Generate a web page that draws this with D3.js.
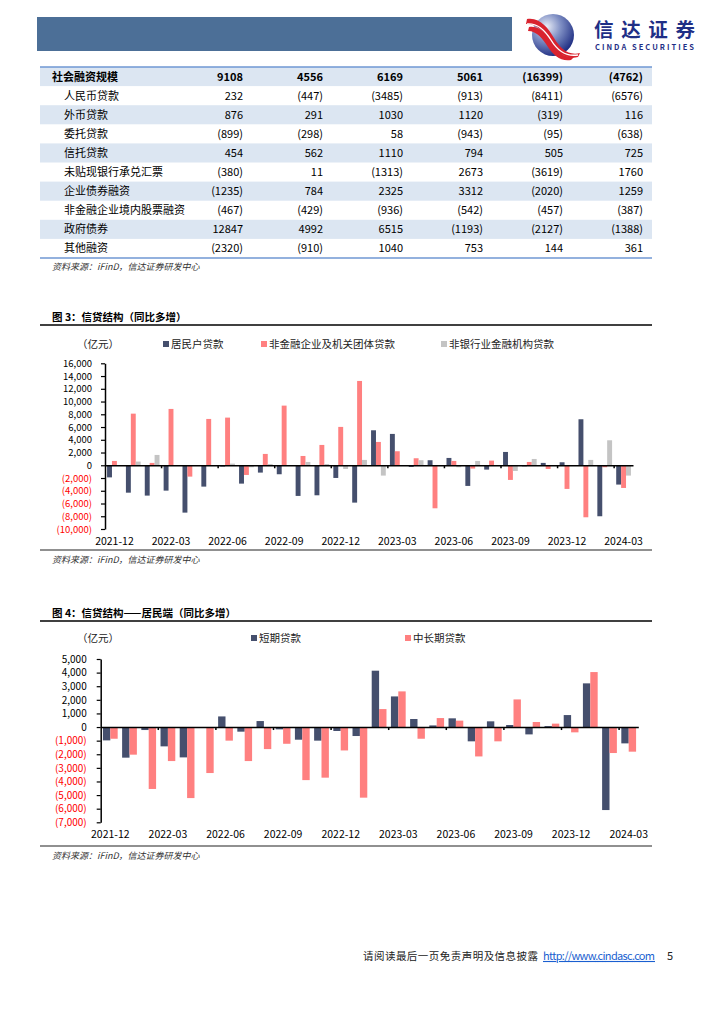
<!DOCTYPE html>
<html><head><meta charset="utf-8">
<script src="https://cdn.jsdelivr.net/npm/d3@7"></script>
<style>
html,body{margin:0;padding:0;background:#fff;}
svg{display:block;}
text{font-family:"Noto Sans CJK SC","Liberation Sans",sans-serif;}
</style></head>
<body>
<svg id="page" width="724" height="1024"></svg>
<script>
// ---------- DATA ----------
const tableRows = ["社会融资规模","人民币贷款","外币贷款","委托贷款","信托贷款","未贴现银行承兑汇票","企业债券融资","非金融企业境内股票融资","政府债券","其他融资"];
const tableCol1 = [9108, 232, 876, -899, 454, -380, -1235, -467, 12847, -2320];
const tableCol2 = [4556, -447, 291, -298, 562, 11, 784, -429, 4992, -910];
const tableCol3 = [6169, -3485, 1030, 58, 1110, -1313, 2325, -936, 6515, 1040];
const tableCol4 = [5061, -913, 1120, -943, 794, 2673, 3312, -542, -1193, 753];
const tableCol5 = [-16399, -8411, -319, -95, 505, -3619, -2020, -457, -2127, 144];
const tableCol6 = [-4762, -6576, 116, -638, 725, 1760, 1259, -387, -1388, 361];

const months = ["2021-12","2022-01","2022-02","2022-03","2022-04","2022-05","2022-06","2022-07","2022-08","2022-09","2022-10","2022-11","2022-12","2023-01","2023-02","2023-03","2023-04","2023-05","2023-06","2023-07","2023-08","2023-09","2023-10","2023-11","2023-12","2024-01","2024-02","2024-03"];
const tickLabels = ["2021-12","2022-03","2022-06","2022-09","2022-12","2023-03","2023-06","2023-09","2023-12","2024-03"];

// Figure 3
const seriesNames3 = ["居民户贷款","非金融企业及机关团体贷款","非银行业金融机构贷款"];
const household = [-1900,-4300,-4760,-3980,-7430,-3350,-200,-2880,-1150,-1410,-4810,-4710,-1990,-5860,5490,4920,-260,790,1150,-3240,-680,2090,-160,370,470,7220,-8000,-3030];
const corporate = [680,8100,370,8840,-1780,7270,7480,-1520,1780,9360,1460,3190,6020,13230,3660,2200,1100,-6750,680,-520,730,-2300,520,-580,-3710,-8160,-310,-3560];
const nonbank   = [0,580,1620,-60,0,0,260,-310,200,0,520,200,-580,840,-1620,0,790,0,-310,680,0,-890,990,0,0,840,3920,-1620];
const yTicks3 = [-10000,-8000,-6000,-4000,-2000,0,2000,4000,6000,8000,10000,12000,14000,16000];

// Figure 4
const seriesNames4 = ["短期贷款","中长期贷款"];
const shortTerm = [-980,-2250,-220,-1420,-2230,-30,780,-340,440,-170,-930,-1000,-290,-660,4140,2250,590,120,640,-1050,420,150,-540,70,880,3210,-6100,-1200];
const longTerm  = [-860,-2030,-4550,-2500,-5220,-3380,-1000,-2500,-1620,-1230,-3900,-3720,-1720,-5190,1320,2620,-860,660,470,-2160,-1050,2030,370,250,-390,4040,-1910,-1810];
const yTicks4 = [-7000,-6000,-5000,-4000,-3000,-2000,-1000,0,1000,2000,3000,4000,5000];

// ---------- STYLE ----------
const NAVY = "#454f6d", SALMON = "#ff8080", GREY = "#c4c4c4";
const svg = d3.select("#page");
const fmtAxis = v => v < 0 ? "(" + d3.format(",")(-v) + ")" : d3.format(",")(v);
const fmtTab = v => v < 0 ? "(" + (-v) + ")" : String(v);

// ---------- HEADER ----------
svg.append("rect").attr("x",37).attr("y",17).attr("width",475).attr("height",34).attr("fill","#4c6f97");
const defs = svg.append("defs");
const rg = defs.append("radialGradient").attr("id","emb").attr("cx","35%").attr("cy","30%").attr("r","75%");
rg.append("stop").attr("offset","0%").attr("stop-color","#e9edf7");
rg.append("stop").attr("offset","45%").attr("stop-color","#7f8fc4");
rg.append("stop").attr("offset","100%").attr("stop-color","#1b2a80");
const logo = svg.append("g");
logo.append("circle").attr("cx",553).attr("cy",35).attr("r",21).attr("fill","url(#emb)");
logo.append("path").attr("d","M527,19 C540,17 548,28 554,38 C560,48 568,56 580,53 L578,57 C566,60 556,52 550,42 C544,32 538,24 526,24 Z").attr("fill","#d9232e");
logo.append("path").attr("d","M529,27 C540,25 547,35 552,44 C557,52 565,58 574,57 L571,60 C561,62 553,55 548,47 C543,39 537,31 528,31 Z").attr("fill","#d9232e");
logo.append("path").attr("d","M527,24 C539,23 546,32 551,40 C557,50 565,57 578,55").attr("fill","none").attr("stroke","#fff").attr("stroke-width",1.4);
logo.append("text").attr("x",594).attr("y",36.5).attr("font-size",19.5).attr("font-weight","bold").attr("fill","#1f2f86").attr("textLength",101).text("信达证券");
logo.append("text").attr("x",595).attr("y",50).attr("font-size",7.5).attr("font-weight","bold").attr("fill","#1f2f86").attr("font-family","Liberation Sans").attr("textLength",99).text("CINDA SECURITIES");

// ---------- TABLE ----------
const tableTop = 67, rowH = 19.1;
const cols = [tableCol1,tableCol2,tableCol3,tableCol4,tableCol5,tableCol6];
const colRight = d3.scaleLinear().domain([0,5]).range([243,643]);
const yRow = d3.scaleBand().domain(d3.range(tableRows.length)).range([tableTop, tableTop + rowH*tableRows.length]);
const tg = svg.append("g");
tableRows.forEach((r,i) => {
  if (i % 2 === 0) tg.append("rect").attr("x",40).attr("y",yRow(i)).attr("width",612).attr("height",yRow.bandwidth()).attr("fill","#dce6f2");
  tg.append("text").attr("x", i===0 ? 52 : 64).attr("y", yRow(i)+yRow.bandwidth()/2).attr("dy","0.36em")
    .attr("font-size",11).attr("font-weight", i===0 ? "bold" : "normal").attr("fill","#000").text(r);
  cols.forEach((c,j) => {
    tg.append("text").attr("x", colRight(j)).attr("y", yRow(i)+yRow.bandwidth()/2).attr("dy","0.36em")
      .attr("text-anchor","end").attr("font-size",11).attr("font-family","Liberation Sans, Arial")
      .attr("font-weight", i===0 ? "bold" : "normal").attr("fill","#000").text(fmtTab(c[i]));
  });
});
tg.append("line").attr("x1",40).attr("x2",652).attr("y1",tableTop).attr("y2",tableTop).attr("stroke","#6f97d3").attr("stroke-width",1.5);
tg.append("line").attr("x1",40).attr("x2",652).attr("y1",tableTop+rowH*10).attr("y2",tableTop+rowH*10).attr("stroke","#6f97d3").attr("stroke-width",1.5);
const source = (y) => svg.append("text").attr("x",52).attr("y",y).attr("dy","0.36em").attr("font-size",9)
  .attr("font-style","italic").attr("fill","#333").text("资料来源：iFinD，信达证券研发中心");
source(267);

// ---------- CHART BUILDER ----------
function chart(cfg) {
  const g = svg.append("g");
  g.append("text").attr("x",52).attr("y",cfg.titleY).attr("dy","0.36em").attr("font-size",10.5).attr("font-weight","bold").text(cfg.title);
  g.append("line").attr("x1",40).attr("x2",652).attr("y1",cfg.ruleY).attr("y2",cfg.ruleY).attr("stroke","#000").attr("stroke-width",1.5);
  g.append("text").attr("x",77).attr("y",cfg.legendY).attr("dy","0.36em").attr("font-size",10.5).attr("fill","#222").text("（亿元）");
  cfg.series.forEach((s,k) => {
    g.append("rect").attr("x",cfg.legendX[k]).attr("y",cfg.legendY-3).attr("width",6).attr("height",6).attr("fill",cfg.colors[k]);
    g.append("text").attr("x",cfg.legendX[k]+8).attr("y",cfg.legendY).attr("dy","0.36em").attr("font-size",10.5).attr("fill","#222").text(s);
  });
  const x = d3.scaleBand().domain(months).range([cfg.x0, cfg.x1]).padding(0);
  const xs = d3.scaleBand().domain(d3.range(cfg.series.length)).range([0, x.bandwidth()]).paddingInner(0).paddingOuter(cfg.pOuter);
  const y = d3.scaleLinear().domain(cfg.domain).range([cfg.yBottom, cfg.yTop]);
  cfg.values.forEach((vals,k) => {
    g.append("g").selectAll("rect").data(vals).join("rect")
      .attr("x",(d,i) => x(months[i]) + xs(k))
      .attr("width", xs.bandwidth())
      .attr("y", d => y(Math.max(0,d)))
      .attr("height", d => Math.abs(y(d) - y(0)))
      .attr("fill", cfg.colors[k]);
  });
  const ya = g.append("g").attr("transform",`translate(${cfg.x0},0)`)
    .call(d3.axisLeft(y).tickValues(cfg.ticks).tickFormat(fmtAxis).tickSize(4).tickSizeOuter(0).tickPadding(cfg.tickPad));
  ya.select(".domain").attr("stroke","#000").attr("stroke-width",1.5);
  ya.selectAll(".tick line").attr("stroke","#000").attr("stroke-width",1.2);
  ya.selectAll(".tick text").attr("font-size",cfg.yFont).attr("font-family","Liberation Sans, Arial")
    .attr("fill", d => d < 0 ? "#ff0000" : "#000");
  const za = g.append("g").attr("transform",`translate(0,${y(0)})`)
    .call(d3.axisBottom(x).tickValues(tickLabels.slice(1)).tickSize(3).tickSizeOuter(0).tickFormat(""));
  za.select(".domain").attr("stroke","#000").attr("stroke-width",1.5);
  za.selectAll(".tick").attr("transform", d => `translate(${x(d)},0)`);
  za.selectAll(".tick line").attr("stroke","#000").attr("stroke-width",1.5);
  const xa = g.append("g").attr("transform",`translate(0,${cfg.labelY})`)
    .call(d3.axisBottom(x).tickValues(tickLabels).tickSize(0).tickPadding(0));
  xa.select(".domain").remove();
  xa.selectAll(".tick text").attr("font-size",10.5).attr("font-family","Liberation Sans, Arial").attr("fill","#000").attr("dy","0.36em").attr("y",0);
  g.append("line").attr("x1",40).attr("x2",652).attr("y1",cfg.bottomRule).attr("y2",cfg.bottomRule).attr("stroke","#222").attr("stroke-width",1.2);
  source(cfg.bottomRule + 10);
}

chart({
  title:"图 3：信贷结构（同比多增）", titleY:317, ruleY:325, legendY:344,
  series:seriesNames3, legendX:[163,261,441], colors:[NAVY,SALMON,GREY],
  values:[household,corporate,nonbank],
  x0:105, x1:633, pOuter:0.42, domain:[-10000,16000], yBottom:529, yTop:363.3,
  ticks:yTicks3, tickPad:9, yFont:9.5, labelY:541.5, bottomRule:550
});
chart({
  title:"图 4：信贷结构——居民端（同比多增）", titleY:613, ruleY:621, legendY:638,
  series:seriesNames4, legendX:[251,405], colors:[NAVY,SALMON],
  values:[shortTerm,longTerm],
  x0:100.7, x1:638.3, pOuter:0.3, domain:[-7000,5000], yBottom:822.3, yTop:659,
  ticks:yTicks4, tickPad:10, yFont:10, labelY:834.5, bottomRule:846
});

// ---------- FOOTER ----------
svg.append("text").attr("x",363).attr("y",956).attr("dy","0.36em").attr("font-size",10.5).attr("fill","#222").attr("textLength",175).text("请阅读最后一页免责声明及信息披露");
svg.append("text").attr("x",543).attr("y",956).attr("dy","0.36em").attr("font-size",11).attr("font-family","Liberation Sans, Arial").attr("fill","#1a5fd0").attr("text-decoration","underline").attr("textLength",112).text("http://www.cindasc.com");
svg.append("text").attr("x",667).attr("y",956).attr("dy","0.36em").attr("font-size",11).attr("font-family","Liberation Sans, Arial").attr("fill","#222").text("5");
</script>
</body></html>
